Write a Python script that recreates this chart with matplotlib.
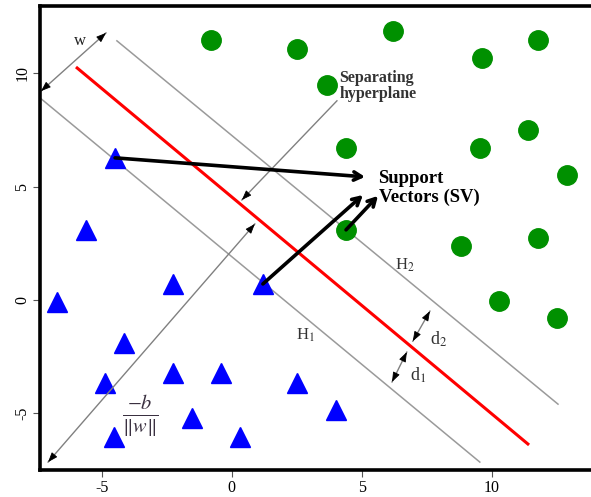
import matplotlib
matplotlib.use('Agg')
import matplotlib.pyplot as plt

plt.rcParams['font.family'] = ['Liberation Serif', 'DejaVu Serif']
plt.rcParams['mathtext.fontset'] = 'stix'

# class +1 (green circles)
green_x = [-0.80, 2.51, 6.20, 9.63, 11.79, 3.66, 4.40, 9.55, 11.40, 12.90, 4.40, 8.82, 11.79, 10.28, 12.52]
green_y = [11.49, 11.09, 11.88, 10.69, 11.49, 9.50, 6.71, 6.71, 7.51, 5.52, 3.09, 2.38, 2.73, -0.05, -0.80]

# class -1 (blue triangles)
blue_x = [-4.49, -5.61, -6.73, -2.26, 1.20, -4.15, -4.88, -2.26, -0.42, 2.51, -1.53, -4.53, 0.32, 4.01]
blue_y = [6.27, 3.09, -0.10, 0.70, 0.70, -1.91, -3.68, -3.23, -3.23, -3.68, -5.23, -6.06, -6.06, -4.87]

# hyperplane and margins (end points)
hyper_x = [-5.95, 11.40]
hyper_y = [10.24, -6.37]
h2_x = [-4.42, 12.56]
h2_y = [11.44, -4.61]
h1_x = [-7.38, 9.55]
h1_y = [8.92, -7.17]

xticks = [-5, 0, 5, 10]
yticks = [-5, 0, 5, 10]

fig = plt.figure(figsize=(5.91, 4.97), dpi=100)
ax = fig.add_axes([0.0677, 0.0543, 0.9323, 0.9346])
ax.set_xlim(-7.38, 13.83)
ax.set_ylim(-7.52, 13.0)

ax.plot(h2_x, h2_y, color='#9a9a9a', lw=1.1)
ax.plot(h1_x, h1_y, color='#9a9a9a', lw=1.1)
ax.plot(hyper_x, hyper_y, color='#ff0000', lw=2.2)

ax.plot(green_x, green_y, 'o', color='#009000', ms=14, mec='#009000')
ax.plot(blue_x, blue_y, '^', color='#0000ff', ms=14, mec='#0000ff')


def gray_arrow(p0, p1, both=True):
    # gray shaft with small black heads
    ax.plot([p0[0], p1[0]], [p0[1], p1[1]], color='#808080', lw=1.0)
    ends = [(p0, p1), (p1, p0)] if both else [(p0, p1)]
    for a, b in ends:
        dx, dy = b[0] - a[0], b[1] - a[1]
        t = 0.35 / (dx * dx + dy * dy) ** 0.5
        ax.annotate('', xy=b, xytext=(b[0] - dx * t, b[1] - dy * t),
                    arrowprops=dict(arrowstyle='-|>,head_length=0.6,head_width=0.22',
                                    color='black', lw=0.6, shrinkA=0, shrinkB=0))


gray_arrow((-7.34, 9.22), (-4.84, 11.79))        # w
gray_arrow((0.89, 3.35), (-7.07, -7.17))         # -b/||w||
gray_arrow((4.05, 8.79), (0.39, 4.41), both=False)  # separating hyperplane
gray_arrow((7.63, -0.50), (6.97, -1.83))         # d2
gray_arrow((6.74, -2.31), (6.17, -3.63))         # d1

# support vector arrows
sv_arrows = [((-4.49, 6.27), (5.13, 5.43)),
             ((1.20, 0.70), (5.05, 4.63)),
             ((4.40, 3.09), (5.63, 4.59))]
for a, b in sv_arrows:
    ax.annotate('', xy=b, xytext=a,
                arrowprops=dict(arrowstyle='->,head_length=0.55,head_width=0.3',
                                color='black', lw=2.6, shrinkA=0, shrinkB=0))

ax.text(-5.84, 11.45, 'w', fontsize=12, ha='center', va='center', color='#222222')
ax.text(4.15, 9.45, 'Separating\nhyperplane', fontsize=11.5, ha='left', va='center',
        color='#333333', linespacing=0.95, fontweight='semibold')
ax.text(5.65, 4.95, 'Support\nVectors (SV)', fontsize=13.5, fontweight='bold',
        ha='left', va='center', linespacing=1.1)
ax.text(6.67, 1.54, r'H$_2$', fontsize=12, ha='center', va='center', color='#333333')
ax.text(2.82, -1.56, r'H$_1$', fontsize=12, ha='center', va='center', color='#333333')
ax.text(7.63, -1.73, r'd$_2$', fontsize=13, ha='left', va='center', color='#333333')
ax.text(6.85, -3.32, r'd$_1$', fontsize=13, ha='left', va='center', color='#333333')
ax.text(-3.53, -5.10, r'$\frac{-b}{\|w\|}$', fontsize=21, ha='center', va='center',
        color='#3a3040')

ax.set_xticks(xticks)
ax.set_yticks(yticks)
ax.set_xticklabels([str(v) for v in xticks], fontsize=11.5)
ax.set_yticklabels([str(v) for v in yticks], fontsize=11.5, rotation=90, va='center')
ax.tick_params(direction='out', length=5, width=0.8, color='#555555', pad=2)
for s in ['left', 'bottom', 'top']:
    ax.spines[s].set_linewidth(2.6)
ax.spines['right'].set_visible(False)

fig.savefig('out.png', dpi=100)
